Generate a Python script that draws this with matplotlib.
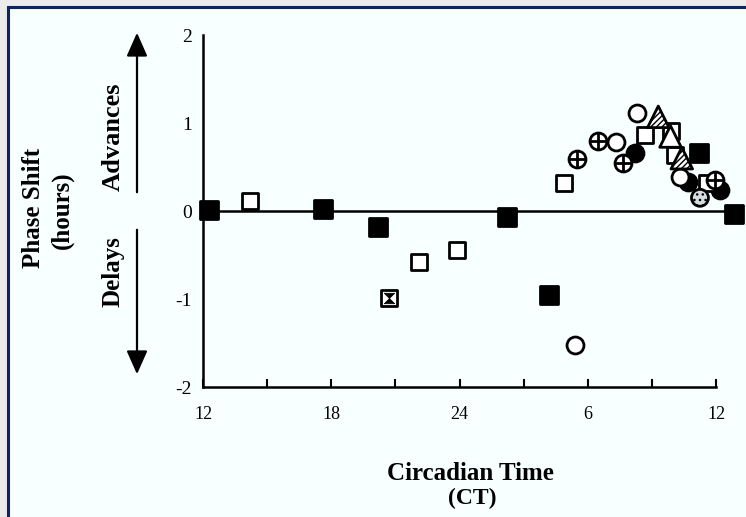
import matplotlib
matplotlib.use("Agg")
import matplotlib.pyplot as plt
from matplotlib.patches import Rectangle, FancyArrowPatch
from matplotlib.path import Path

# ---------------- data (circadian time, phase shift in hours) ----------------
filled_sq_x = [12.3, 17.6, 20.2, 26.2, 28.2, 35.2, 36.85]
filled_sq_y = [0.01, 0.02, -0.18, -0.07, -0.95, 0.66, -0.03]

open_sq_x = [14.2, 22.1, 23.9, 28.9, 32.7, 33.9, 34.1, 35.6]
open_sq_y = [0.11, -0.58, -0.44, 0.32, 0.86, 0.91, 0.64, 0.32]

open_circ_x = [29.4, 31.3, 32.3, 34.3]
open_circ_y = [-1.52, 0.78, 1.11, 0.39]

plus_circ_x = [29.5, 30.5, 31.65, 35.95]
plus_circ_y = [0.59, 0.80, 0.55, 0.35]

filled_circ_x = [32.2, 34.7, 36.2]
filled_circ_y = [0.66, 0.33, 0.24]

open_tri_x = [33.85]
open_tri_y = [0.85]

hatch_tri_x = [33.3, 34.4]
hatch_tri_y = [1.07, 0.60]

cross_sq_x = [20.7]
cross_sq_y = [-0.99]

grey_circ_x = [35.25]
grey_circ_y = [0.15]

xtick_pos = [12, 15, 18, 21, 24, 27, 30, 33, 36]
xtick_labels = ["12", "", "18", "", "24", "", "6", "", "12"]
ytick_pos = [2, 1, 0, -1, -2]
ytick_labels = ["2", "1", "0", "-1", "-2"]

# ---------------- figure ----------------
W, H = 746, 517
fig = plt.figure(figsize=(W / 100, H / 100), dpi=100)
fig.patch.set_facecolor("#ebebeb")
bg = Rectangle((8 / W, -0.1), 1.2, 1 - 7 / H + 0.1, transform=fig.transFigure,
               facecolor="#f8ffff", edgecolor="#0b2463", linewidth=2.2, zorder=0)
fig.add_artist(bg)

px_per_h = (716 - 203) / 24.0
x_right = 12 + (W - 203) / px_per_h
ax = fig.add_axes([203 / W, 1 - 387 / H, (W - 203) / W, (387 - 35) / H])
ax.set_facecolor("none")
ax.set_xlim(12, x_right)
ax.set_ylim(-2, 2)

serif = ["Liberation Serif", "DejaVu Serif"]

for s in ["top", "right"]:
    ax.spines[s].set_visible(False)
ax.spines["left"].set_linewidth(1.8)
ax.spines["bottom"].set_linewidth(1.8)
ax.spines["bottom"].set_bounds(12, 36)

ax.set_xticks(xtick_pos)
ax.set_xticklabels(xtick_labels, fontfamily=serif, fontsize=13)
ax.tick_params(axis="x", direction="in", length=6, width=1.5, pad=14)
ax.set_yticks(ytick_pos)
ax.set_yticklabels(ytick_labels, fontfamily=serif, fontsize=14)
ax.tick_params(axis="y", length=0, pad=8)

ax.axhline(0, xmin=0, xmax=(36.9 - 12) / (x_right - 12), color="black", lw=1.8, zorder=1)

ms = 12.2
lw = 2.0
common = dict(clip_on=False, linewidths=lw, edgecolors="black")

ax.scatter(filled_sq_x, filled_sq_y, marker="s", s=(ms + 0.3) ** 2, facecolors="black", zorder=3, **common)
ax.scatter(filled_circ_x, filled_circ_y, marker="o", s=ms ** 2, facecolors="black", zorder=3, **common)
ax.scatter(open_sq_x, open_sq_y, marker="s", s=ms ** 2, facecolors="white", zorder=4, **common)
ax.scatter(open_circ_x, open_circ_y, marker="o", s=ms ** 2, facecolors="white", zorder=4, **common)
ax.scatter(plus_circ_x, plus_circ_y, marker="o", s=ms ** 2, facecolors="white", zorder=5, **common)
ax.scatter(plus_circ_x, plus_circ_y, marker="+", s=ms ** 2, color="black", linewidths=lw, zorder=5.1, clip_on=False)
ax.scatter(grey_circ_x, grey_circ_y, marker="o", s=ms ** 2, facecolors="#d5dde0", hatch="...", zorder=5, **common)
ax.scatter(open_tri_x, open_tri_y, marker="^", s=15.5 ** 2, facecolors="white", zorder=6, **common)
ax.scatter(hatch_tri_x, hatch_tri_y, marker="^", s=15.5 ** 2, facecolors="white", hatch="//////", zorder=6, **common)

hourglass = Path([(-1, 1), (1, 1), (0, 0), (1, -1), (-1, -1), (0, 0), (-1, 1)],
                 [Path.MOVETO, Path.LINETO, Path.LINETO, Path.LINETO, Path.LINETO, Path.LINETO, Path.CLOSEPOLY])
ax.scatter(cross_sq_x, cross_sq_y, marker="s", s=ms ** 2, facecolors="white", zorder=4, **common)
ax.scatter(cross_sq_x, cross_sq_y, marker=hourglass, s=(ms * 0.62) ** 2, facecolors="black",
           edgecolors="black", linewidths=0.5, zorder=4.1, clip_on=False)

# ---------------- labels ----------------
def fx(px):
    return px / W

def fy(py):
    return 1 - py / H

fig.text(fx(33), fy(208), "Phase Shift", rotation=90, ha="center", va="center",
         fontfamily=serif, fontweight="bold", fontsize=18)
fig.text(fx(62), fy(210), "(hours)", rotation=90, ha="center", va="center",
         fontfamily=serif, fontweight="bold", fontsize=18)
fig.text(fx(113), fy(137), "Advances", rotation=90, ha="center", va="center",
         fontfamily=serif, fontweight="bold", fontsize=19)
fig.text(fx(113), fy(272), "Delays", rotation=90, ha="center", va="center",
         fontfamily=serif, fontweight="bold", fontsize=18)
fig.text(fx(470), fy(473), "Circadian Time", ha="center", va="center",
         fontfamily=serif, fontweight="bold", fontsize=18)
fig.text(fx(472), fy(498), "(CT)", ha="center", va="center",
         fontfamily=serif, fontweight="bold", fontsize=17)

for y0, y1 in [(195, 30), (227, 377)]:
    arr = FancyArrowPatch((fx(137), fy(y0)), (fx(137), fy(y1)), transform=fig.transFigure,
                          arrowstyle="-|>,head_length=0.9,head_width=0.4", mutation_scale=16,
                          color="black", linewidth=1.6)
    fig.add_artist(arr)

fig.savefig("out.png", dpi=100, facecolor=fig.get_facecolor())
